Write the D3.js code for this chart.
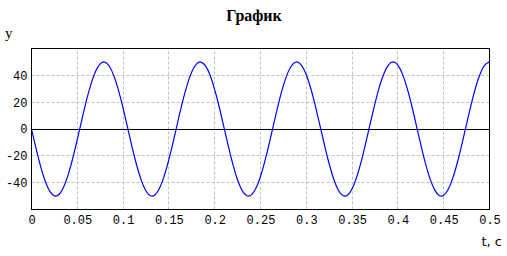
<!DOCTYPE html>
<html>
<head>
<meta charset="utf-8">
<script src="https://cdn.jsdelivr.net/npm/d3@7"></script>
<style>
  html, body { margin: 0; padding: 0; background: #fff; }
  svg { display: block; }
</style>
</head>
<body>
<svg id="svg1"></svg>
<script>
// data: y(t), t in seconds
var tValues = [
  0, 0.005, 0.01, 0.015, 0.02, 0.025, 0.03, 0.035, 0.04, 0.045,
  0.05, 0.055, 0.06, 0.065, 0.07, 0.075, 0.08, 0.085, 0.09, 0.095,
  0.1, 0.105, 0.11, 0.115, 0.12, 0.125, 0.13, 0.135, 0.14, 0.145,
  0.15, 0.155, 0.16, 0.165, 0.17, 0.175, 0.18, 0.185, 0.19, 0.195,
  0.2, 0.205, 0.21, 0.215, 0.22, 0.225, 0.23, 0.235, 0.24, 0.245,
  0.25, 0.255, 0.26, 0.265, 0.27, 0.275, 0.28, 0.285, 0.29, 0.295,
  0.3, 0.305, 0.31, 0.315, 0.32, 0.325, 0.33, 0.335, 0.34, 0.345,
  0.35, 0.355, 0.36, 0.365, 0.37, 0.375, 0.38, 0.385, 0.39, 0.395,
  0.4, 0.405, 0.41, 0.415, 0.42, 0.425, 0.43, 0.435, 0.44, 0.445,
  0.45, 0.455, 0.46, 0.465, 0.47, 0.475, 0.48, 0.485, 0.49, 0.495,
  0.5
]
var yValues = [
  0, -14.7, -28.1, -39.0, -46.5, -49.8, -48.8, -43.4, -34.2, -22.0,
  -7.8, 7.0, 21.3, 33.6, 43.0, 48.6, 49.9, 46.8, 39.5, 28.8,
  15.5, 0.8, -14.0, -27.4, -38.5, -46.2, -49.8, -49.0, -43.8, -34.8,
  -22.7, -8.6, 6.3, 20.6, 33.1, 42.6, 48.4, 49.9, 47.0, 40.0,
  29.4, 16.2, 1.6, -13.2, -26.8, -38.0, -45.9, -49.7, -49.1, -44.2,
  -35.4, -23.4, -9.4, 5.5, 19.9, 32.5, 42.2, 48.2, 50.0, 47.3,
  40.5, 30.0, 16.9, 2.4, -12.4, -26.1, -37.5, -45.6, -49.6, -49.3,
  -44.6, -35.9, -24.1, -10.1, 4.7, 19.1, 31.9, 41.8, 48.0, 50.0,
  47.6, 40.9, 30.6, 17.7, 3.1, -11.7, -25.5, -37.0, -45.2, -49.5,
  -49.4, -44.9, -36.4, -24.8, -10.9, 3.9, 18.4, 31.3, 41.4, 47.8,
  50.0
]
var xTicks = [0, 0.05, 0.1, 0.15, 0.2, 0.25, 0.3, 0.35, 0.4, 0.45, 0.5]
var xTickLabels = ["0", "0.05", "0.1", "0.15", "0.2", "0.25", "0.3", "0.35", "0.4", "0.45", "0.5"]
var yTicks = [-40, -20, 0, 20, 40]
var yTickLabels = ["-40", "-20", "0", "20", "40"]
var title = "График"
var xLabel = "t, c"
var yLabel = "y"

var W = 507, H = 256
var margin = {left: 31.5, top: 48.5, right: 17.5, bottom: 46.5}
var plotW = W - margin.left - margin.right   // 458
var plotH = H - margin.top - margin.bottom   // 161
var monoFont = "'Liberation Mono', 'Courier New', monospace"

var svg = d3.select("#svg1")
  .attr("width", W)
  .attr("height", H)

var x = d3.scaleLinear().domain([0, 0.5]).range([margin.left, margin.left + plotW])
var y = d3.scaleLinear().domain([-60, 60]).range([margin.top + plotH, margin.top])

var crisp = function(v){ return Math.floor(v) + 0.5 }

// vertical grid
var gx = svg.append("g")
  .attr("transform", "translate(0," + (margin.top + plotH) + ")")
  .call(d3.axisBottom(x).tickValues(xTicks).tickSize(-plotH).tickFormat(""))
gx.select(".domain").remove()
gx.selectAll(".tick").attr("transform", d => "translate(" + crisp(x(d)) + ",0)")
gx.selectAll(".tick line")
  .attr("stroke", "#c0c0c0")
  .attr("stroke-dasharray", "3,2")
  .attr("stroke-width", 1)

// horizontal grid
var gy = svg.append("g")
  .attr("transform", "translate(" + margin.left + ",0)")
  .call(d3.axisLeft(y).tickValues(yTicks.filter(d => d !== 0)).tickSize(-plotW).tickFormat(""))
gy.select(".domain").remove()
gy.selectAll(".tick").attr("transform", d => "translate(0," + crisp(y(d)) + ")")
gy.selectAll(".tick line")
  .attr("stroke", "#c0c0c0")
  .attr("stroke-dasharray", "3,2")
  .attr("stroke-width", 1)

// zero line
svg.append("line")
  .attr("x1", margin.left).attr("x2", margin.left + plotW)
  .attr("y1", crisp(y(0))).attr("y2", crisp(y(0)))
  .attr("stroke", "#000")
  .attr("stroke-width", 1)

// curve
svg.append("clipPath").attr("id", "clip")
  .append("rect")
  .attr("x", margin.left).attr("y", margin.top)
  .attr("width", plotW).attr("height", plotH)

var pts = tValues.map((t, i) => [t, yValues[i]])
var line = d3.line()
  .x(d => x(d[0]))
  .y(d => y(d[1]))
  .curve(d3.curveNatural)

svg.append("path")
  .datum(pts)
  .attr("clip-path", "url(#clip)")
  .attr("d", line)
  .attr("fill", "none")
  .attr("stroke", "#0000ff")
  .attr("stroke-width", 1.2)

// frame
svg.append("rect")
  .attr("x", margin.left).attr("y", margin.top)
  .attr("width", plotW).attr("height", plotH)
  .attr("fill", "none")
  .attr("stroke", "#000")
  .attr("stroke-width", 1)

// tick labels
var xAx = svg.append("g")
  .attr("transform", "translate(0," + (margin.top + plotH) + ")")
  .call(d3.axisBottom(x).tickValues(xTicks).tickSize(0).tickPadding(6)
    .tickFormat((d, i) => xTickLabels[i]))
xAx.select(".domain").remove()
xAx.selectAll("text")
  .style("font-family", monoFont)
  .style("font-size", "12px")
  .attr("fill", "#000")

var yAx = svg.append("g")
  .attr("transform", "translate(" + margin.left + ",0)")
  .call(d3.axisLeft(y).tickValues(yTicks).tickSize(0).tickPadding(4)
    .tickFormat((d, i) => yTickLabels[i]))
yAx.select(".domain").remove()
yAx.selectAll("text")
  .style("font-family", monoFont)
  .style("font-size", "12px")
  .attr("fill", "#000")

// title and axis labels
svg.append("text")
  .text(title)
  .attr("x", 254)
  .attr("y", 21)
  .attr("text-anchor", "middle")
  .style("font-family", "'Liberation Serif', 'Times New Roman', serif")
  .style("font-weight", "bold")
  .style("font-size", "16px")

svg.append("text")
  .text(yLabel)
  .attr("x", 5)
  .attr("y", 38)
  .style("font-family", "'Liberation Serif', 'Times New Roman', serif")
  .style("font-size", "15px")

svg.append("text")
  .text(xLabel)
  .attr("x", 502)
  .attr("y", 246)
  .attr("text-anchor", "end")
  .style("font-family", "'DejaVu Sans', Tahoma, sans-serif")
  .style("font-size", "13px")
</script>
</body>
</html>
